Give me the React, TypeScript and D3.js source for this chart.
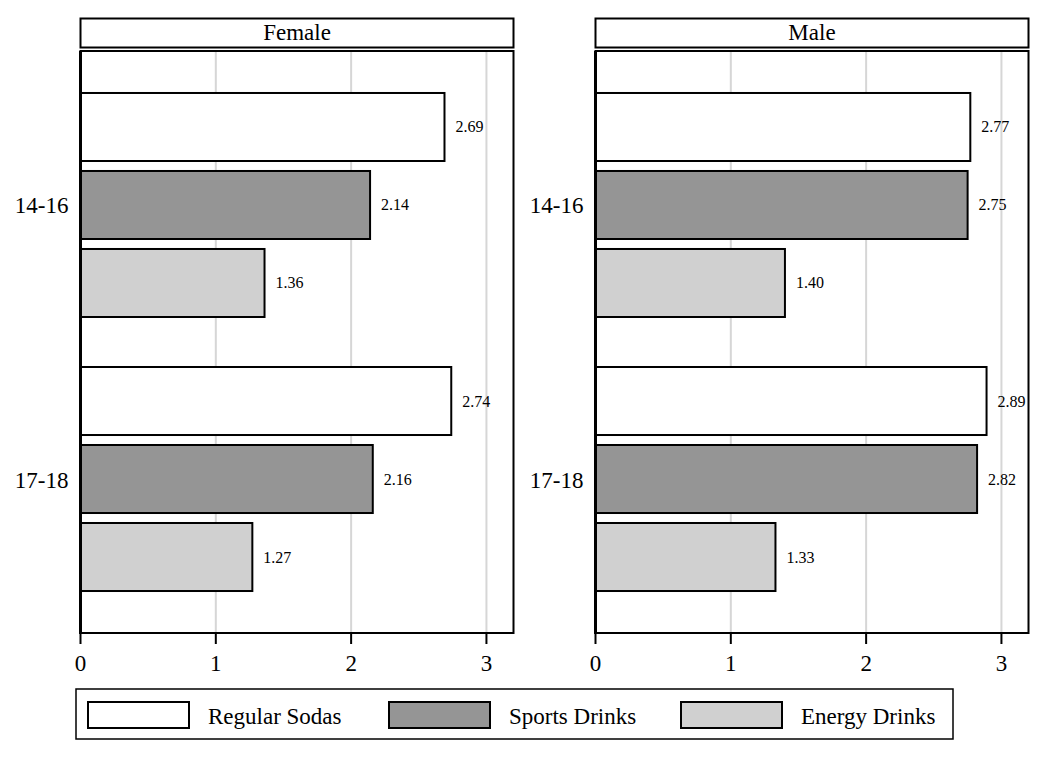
import React from "react";
import * as d3 from "d3";

const panels = ["Female", "Male"];
const ageGroups = ["14-16", "17-18"];
const seriesNames = ["Regular Sodas", "Sports Drinks", "Energy Drinks"];
const seriesColors = ["#ffffff", "#959595", "#d0d0d0"];
const femaleValues = [
  [2.69, 2.14, 1.36],
  [2.74, 2.16, 1.27],
];
const maleValues = [
  [2.77, 2.75, 1.4],
  [2.89, 2.82, 1.33],
];
const xTicks = [0, 1, 2, 3];

const FONT = "Liberation Serif";

export default function App() {
  const panelData = [femaleValues, maleValues];
  const panelRanges: [number, number][] = [
    [80.5, 513.5],
    [595.5, 1028.5],
  ];
  const plotTop = 51;
  const plotBottom = 633;

  const yGroup = d3
    .scalePoint<string>()
    .domain(ageGroups)
    .range([plotTop, plotBottom])
    .padding(0.562);
  const yInner = d3
    .scaleBand<string>()
    .domain(seriesNames)
    .range([-117, 117])
    .paddingInner(0.128)
    .paddingOuter(0.064);

  const legendXs = [88, 389, 681];

  return (
    <div style={{ position: "absolute", left: 0, top: 0 }}>
      <svg width={1050} height={758} style={{ display: "block" }} fontFamily={FONT}>
        <rect x={0} y={0} width={1050} height={758} fill="#ffffff" />
        {panels.map((name, pi) => {
          const x = d3.scaleLinear().domain([0, 3.2]).range(panelRanges[pi]);
          const [x0, x1] = panelRanges[pi];
          const vals = panelData[pi];
          return (
            <g key={name}>
              <rect x={x0} y={18.5} width={x1 - x0} height={29} fill="#fff" stroke="#000" strokeWidth={2} />
              <text x={(x0 + x1) / 2} y={40} textAnchor="middle" fontSize={23} fontFamily={FONT}>
                {name}
              </text>
              {xTicks.slice(1).map((t) => (
                <line key={t} x1={x(t)} x2={x(t)} y1={plotTop} y2={plotBottom} stroke="#d6d6d6" strokeWidth={2} />
              ))}
              {ageGroups.map((g, gi) =>
                seriesNames.map((s, si) => {
                  const v = vals[gi][si];
                  const yy = (yGroup(g) as number) + (yInner(s) as number);
                  const h = yInner.bandwidth();
                  return (
                    <g key={g + s}>
                      <rect x={x(0)} y={yy} width={x(v) - x(0)} height={h} fill={seriesColors[si]} stroke="#000" strokeWidth={2} />
                      <text x={x(v) + 11} y={yy + h / 2 + 5.5} fontSize={16} fontFamily={FONT}>
                        {d3.format(".2f")(v)}
                      </text>
                    </g>
                  );
                })
              )}
              <rect x={x0} y={plotTop} width={x1 - x0} height={plotBottom - plotTop} fill="none" stroke="#000" strokeWidth={2} />
              <line x1={x0} x2={x0} y1={plotTop} y2={plotBottom + 1} stroke="#000" strokeWidth={3} />
              {ageGroups.map((g) => (
                <text key={g} x={x0 - 12} y={(yGroup(g) as number) + 8.5} textAnchor="end" fontSize={23} fontFamily={FONT}>
                  {g}
                </text>
              ))}
              {xTicks.map((t) => (
                <g key={t}>
                  <line x1={x(t)} x2={x(t)} y1={plotBottom} y2={plotBottom + 11} stroke="#000" strokeWidth={2} />
                  <text x={x(t)} y={671} textAnchor="middle" fontSize={23} fontFamily={FONT}>
                    {t}
                  </text>
                </g>
              ))}
            </g>
          );
        })}
        <rect x={76} y={689} width={877} height={50} fill="#fff" stroke="#000" strokeWidth={1.5} />
        {seriesNames.map((s, i) => (
          <g key={s}>
            <rect x={legendXs[i]} y={702} width={101} height={26} fill={seriesColors[i]} stroke="#000" strokeWidth={2} />
            <text x={legendXs[i] + 120} y={723.5} fontSize={23} fontFamily={FONT}>
              {s}
            </text>
          </g>
        ))}
      </svg>
    </div>
  );
}
